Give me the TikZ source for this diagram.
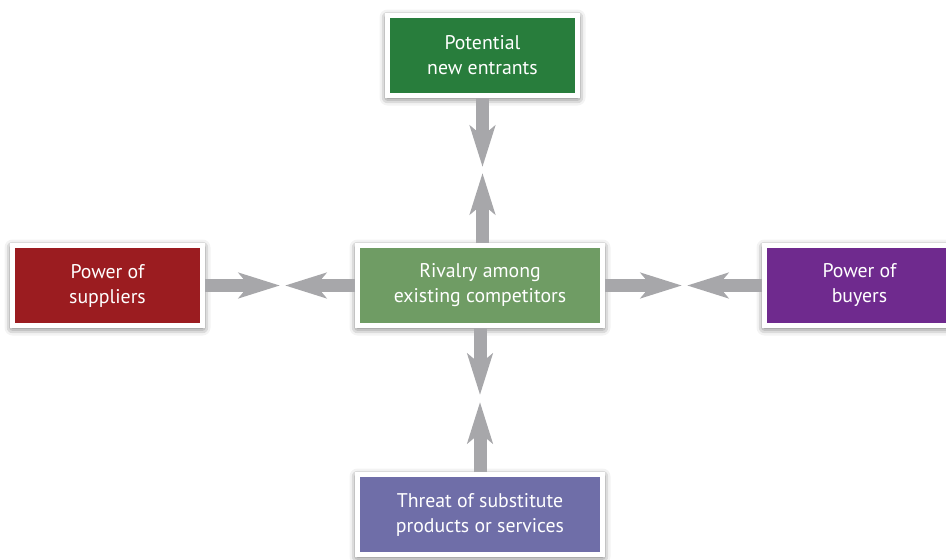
\documentclass[tikz,border=0pt]{standalone}
\usepackage{fontspec}
\setmainfont{PT Sans}
\usetikzlibrary{arrows.meta,shadows.blur}
\definecolor{cgreen}{HTML}{287D3C}
\definecolor{cred}{HTML}{9B1C20}
\definecolor{cpurple}{HTML}{6F2A8E}
\definecolor{cviolet}{HTML}{6F6EA8}
\definecolor{cmid}{HTML}{6F9C64}
\definecolor{carrow}{HTML}{A7A7AA}
\tikzset{
  box/.style={draw=white, line width=5pt, text=white, align=center,
    minimum height=80pt, inner sep=0pt,
    font=\fontsize{19.8pt}{25pt}\selectfont,
    blur shadow={shadow xshift=0pt, shadow yshift=-2pt, shadow blur radius=8pt, shadow opacity=75}},
  narrow/.style={box, minimum width=190pt},
  wide/.style={box, minimum width=245pt},
  force/.style={draw=carrow, line width=13pt,
    -{Stealth[length=41pt, width=25pt, inset=10pt, fill=carrow]}},
}
\begin{document}
\begin{tikzpicture}[x=1pt,y=-1pt]
\useasboundingbox (0,0) rectangle (946,560);
\node[narrow, fill=cgreen] (top) at (482.5,55.5) {Potential\\new entrants};
\node[wide, fill=cmid] (mid) at (480,285.5) {Rivalry among\\existing competitors};
\node[narrow, fill=cred] (left) at (107.5,285.5) {Power of\\suppliers};
\node[narrow, fill=cpurple] (right) at (859.5,285.5) {Power of\\buyers};
\node[wide, fill=cviolet] (bot) at (480,514.5) {Threat of substitute\\products or services};
\coordinate (t1) at (482.5,167);
\coordinate (t2) at (482.5,173);
\coordinate (l1) at (280,285.5);
\coordinate (l2) at (285,285.5);
\coordinate (r1) at (682,285.5);
\coordinate (r2) at (687,285.5);
\coordinate (b1) at (480,395);
\coordinate (b2) at (480,402);
\draw[force] (top.south) -- (t1);
\draw[force] (top.south |- mid.north) -- (t2);
\draw[force] (left.east) -- (l1);
\draw[force] (mid.west) -- (l2);
\draw[force] (mid.east) -- (r1);
\draw[force] (right.west) -- (r2);
\draw[force] (mid.south) -- (b1);
\draw[force] (bot.north) -- (b2);
\end{tikzpicture}
\end{document}
